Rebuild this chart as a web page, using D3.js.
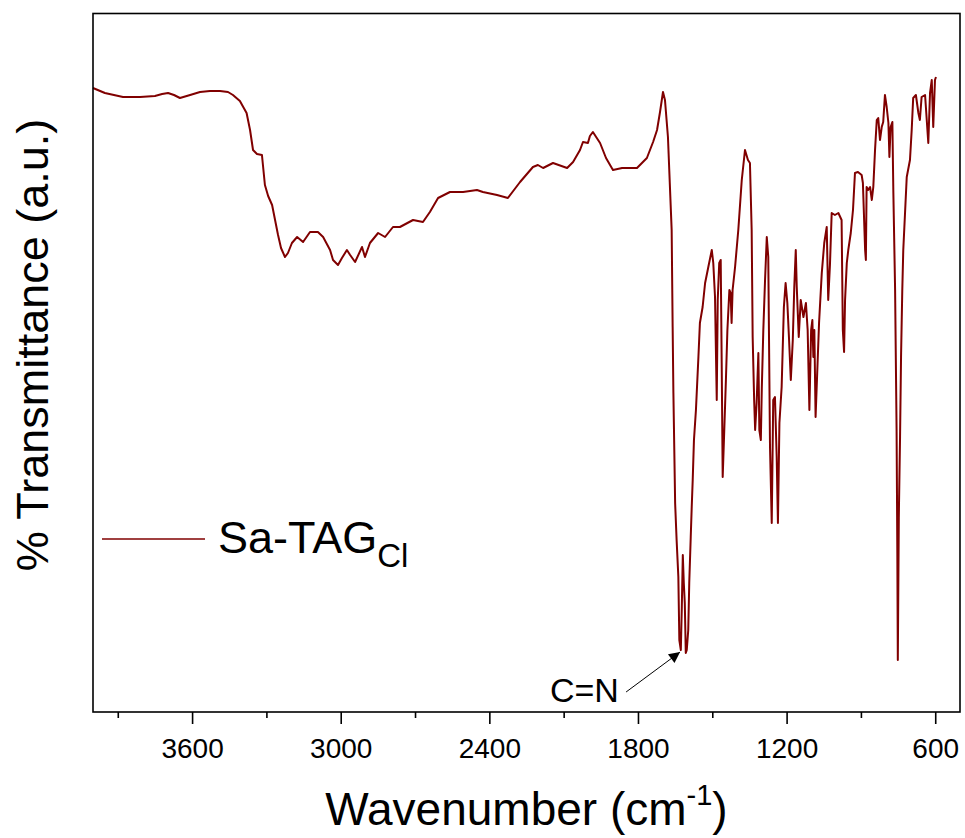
<!DOCTYPE html>
<html lang="en">

<head>
    <meta charset="UTF-8">
    <title>FTIR Sa-TAGCl</title>
    <script src="https://cdn.jsdelivr.net/npm/d3@7"></script>
    <style>
        body {
            margin: 0;
            background: #fff;
        }

        svg {
            display: block;
            font-family: Arial, "Liberation Sans", sans-serif;
        }

        .spectrum {
            fill: none;
            stroke: #800000;
            stroke-width: 2px;
            stroke-linejoin: round;
        }
    </style>
</head>

<body>
    <script>
        // spectrum (wavenumber in cm-1, transmittance in a.u.)
        const wavenumber = [
            4000, 3952, 3879, 3810, 3750, 3721, 3697, 3673, 3649, 3608,
            3568, 3528, 3487, 3455, 3435, 3407, 3380, 3366, 3354, 3338,
            3318, 3306, 3293, 3277, 3253, 3241, 3225, 3213, 3197, 3176,
            3152, 3124, 3092, 3071, 3043, 3031, 3011, 2995, 2975, 2962,
            2942, 2914, 2902, 2882, 2849, 2821, 2789, 2761, 2708, 2668,
            2640, 2607, 2559, 2506, 2450, 2426, 2369, 2325, 2276, 2224,
            2204, 2183, 2143, 2086, 2062, 2034, 2022, 2002, 1994, 1982,
            1953, 1929, 1901, 1864, 1832, 1804, 1764, 1739, 1723, 1711,
            1699, 1691, 1679, 1664, 1660, 1657, 1650, 1644, 1637, 1633,
            1627, 1623, 1619, 1615, 1611, 1607, 1603, 1597, 1593, 1587,
            1583, 1579, 1574, 1566, 1556, 1550, 1539, 1529, 1516, 1502,
            1496, 1489, 1482, 1478, 1472, 1466, 1462, 1458, 1452, 1445,
            1439, 1431, 1426, 1422, 1418, 1408, 1401, 1395, 1381, 1368,
            1362, 1356, 1348, 1341, 1337, 1331, 1327, 1321, 1314, 1310,
            1304, 1300, 1294, 1287, 1280, 1274, 1267, 1260, 1254, 1247,
            1240, 1235, 1229, 1220, 1211, 1204, 1197, 1190, 1183, 1175,
            1169, 1163, 1159, 1151, 1143, 1132, 1122, 1115, 1108, 1101,
            1096, 1092, 1088, 1083, 1076, 1069, 1058, 1048, 1038, 1032,
            1025, 1018, 1005, 991, 978, 973, 968, 964, 957, 951,
            941, 932, 924, 912, 897, 892, 883, 880, 877, 871,
            863, 856, 850, 843, 836, 830, 823, 816, 810, 803,
            796, 789, 785, 780, 773, 769, 762, 756, 753, 751,
            747, 742, 738, 733, 729, 715, 702, 695, 689, 678,
            668, 662, 655, 641, 628, 621, 614, 608, 601, 597
        ];
        const transmittance = [
            624, 619, 615, 615, 616, 618, 619, 617, 614, 617,
            620, 621, 621, 620, 617, 611, 599, 582, 562, 558,
            557, 527, 516, 507, 477, 464, 455, 459, 469, 475,
            470, 480, 480, 475, 462, 452, 447, 454, 462, 457,
            450, 465, 455, 469, 479, 475, 485, 485, 492, 490,
            500, 514, 520, 520, 522, 520, 517, 514, 530, 545,
            547, 544, 549, 544, 550, 562, 570, 569, 576, 580,
            569, 554, 542, 544, 544, 544, 554, 570, 582, 600,
            620, 612, 575, 482, 385, 319, 209, 172, 135, 72,
            62, 105, 157, 129, 109, 59, 62, 82, 129, 175,
            205, 232, 272, 302, 355, 389, 405, 429, 445, 462,
            449, 415, 312, 412, 449, 452, 349, 235, 279, 332,
            382, 422, 419, 389, 422, 445, 465, 482, 532, 562,
            557, 552, 549, 482, 375, 312, 282, 309, 359, 282,
            272, 325, 382, 432, 475, 455, 265, 189, 312, 315,
            255, 189, 289, 325, 405, 429, 409, 372, 332, 372,
            425, 462, 425, 375, 412, 395, 409, 382, 302, 382,
            392, 355, 382, 295, 342, 389, 439, 469, 485, 412,
            447, 499, 497, 499, 492, 382, 360, 412, 449, 462,
            479, 502, 539, 540, 537, 529, 462, 452, 525, 522,
            525, 512, 525, 562, 592, 594, 572, 585, 590, 617,
            605, 589, 555, 585, 590, 519, 422, 282, 159, 52,
            195, 275, 355, 422, 462, 535, 552, 582, 614, 617,
            599, 592, 615, 617, 569, 619, 632, 585, 632, 635
        ];
        const majorTicks = [3600, 3000, 2400, 1800, 1200, 600];
        const minorTicks = [3900, 3300, 2700, 2100, 1500, 900];
        const seriesName = "Sa-TAG";
        const seriesSub = "Cl";
        // C=N annotation: arrow tip on the band, tail and label below it
        const cnTip = { wn: 1630, t: 60 };
        const cnTail = { wn: 1848, t: 20 };
        const cnLabel = { wn: 1877, t: 10, text: "C=N" };

        const data = wavenumber.map((w, i) => ({ wn: w, t: transmittance[i] }));

        const width = 965;
        const height = 838;
        const margin = { top: 13.5, right: 5, bottom: 126, left: 93 };

        const svg = d3.select("body")
            .append("svg")
            .attr("width", width)
            .attr("height", height);

        const xscale = d3.scaleLinear()
            .domain([4000, 500])
            .range([margin.left, width - margin.right]);

        const yscale = d3.scaleLinear()
            .domain([0, 698.5])
            .range([height - margin.bottom, margin.top]);

        const plotBottom = height - margin.bottom;

        // arrow marker
        svg.append("defs").append("marker")
            .attr("id", "arrow")
            .attr("viewBox", "0 0 10 10")
            .attr("refX", 10)
            .attr("refY", 5)
            .attr("markerUnits", "userSpaceOnUse")
            .attr("markerWidth", 15)
            .attr("markerHeight", 11)
            .attr("orient", "auto")
            .append("path")
            .attr("d", "M0,0 L10,5 L0,10 z")
            .attr("fill", "#000");

        // spectrum
        const line = d3.line()
            .x(d => xscale(d.wn))
            .y(d => yscale(d.t));

        svg.append("path")
            .datum(data)
            .attr("class", "spectrum")
            .attr("d", line);

        // frame
        svg.append("rect")
            .attr("x", margin.left)
            .attr("y", margin.top)
            .attr("width", width - margin.right - margin.left)
            .attr("height", plotBottom - margin.top)
            .attr("fill", "none")
            .attr("stroke", "#000")
            .attr("stroke-width", 1.6);

        // x axis major ticks
        const xAxis = svg.append("g")
            .attr("transform", `translate(0,${plotBottom})`)
            .call(d3.axisBottom(xscale).tickValues(majorTicks).tickSize(12).tickPadding(14).tickFormat(d3.format("d")));
        xAxis.select(".domain").remove();
        xAxis.selectAll("line").attr("stroke-width", 1.6);
        xAxis.selectAll("text").style("font-size", "28px").style("font-family", "Arial, 'Liberation Sans', sans-serif").attr("fill", "#000");

        // x axis minor ticks
        const xMinor = svg.append("g")
            .attr("transform", `translate(0,${plotBottom})`)
            .call(d3.axisBottom(xscale).tickValues(minorTicks).tickSize(6).tickFormat(""));
        xMinor.select(".domain").remove();
        xMinor.selectAll("line").attr("stroke-width", 1.6);

        // axis titles
        const xTitle = svg.append("text")
            .attr("x", (margin.left + width - margin.right) / 2)
            .attr("y", 825)
            .attr("text-anchor", "middle")
            .style("font-size", "46px")
            .text("Wavenumber (cm");
        xTitle.append("tspan").attr("dy", -20).style("font-size", "29px").text("-1");
        xTitle.append("tspan").attr("dy", 20).text(")");

        svg.append("text")
            .attr("transform", "translate(48,345) rotate(-90)")
            .attr("text-anchor", "middle")
            .style("font-size", "45px")
            .text("% Transmittance (a.u.)");

        // legend
        svg.append("line")
            .attr("x1", 102).attr("x2", 205)
            .attr("y1", 539).attr("y2", 539)
            .attr("stroke", "#800000")
            .attr("stroke-width", 1.5);
        const legendText = svg.append("text")
            .attr("x", 218)
            .attr("y", 553)
            .style("font-size", "45px")
            .text(seriesName);
        legendText.append("tspan").attr("dy", 14).style("font-size", "33px").text(seriesSub);

        // C=N annotation
        svg.append("line")
            .attr("x1", xscale(cnTail.wn)).attr("y1", yscale(cnTail.t))
            .attr("x2", xscale(cnTip.wn)).attr("y2", yscale(cnTip.t))
            .attr("stroke", "#000")
            .attr("stroke-width", 1)
            .attr("marker-end", "url(#arrow)");
        svg.append("text")
            .attr("x", xscale(cnLabel.wn))
            .attr("y", yscale(cnLabel.t))
            .attr("text-anchor", "end")
            .style("font-size", "34px")
            .text(cnLabel.text);
    </script>
</body>

</html>
